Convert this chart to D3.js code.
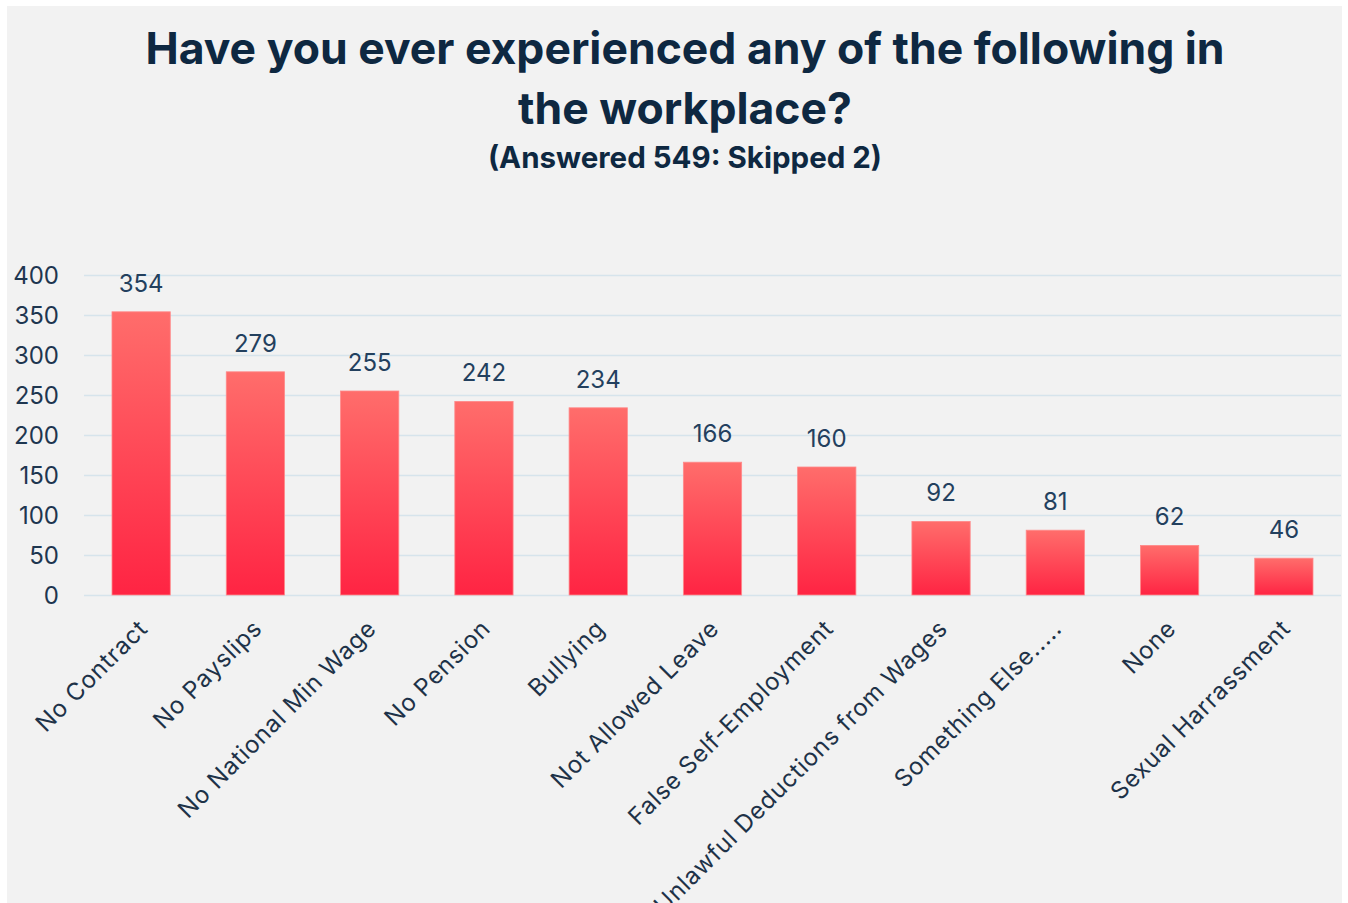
<!DOCTYPE html>
<html>
<head>
<meta charset="utf-8">
<script src="https://cdn.jsdelivr.net/npm/d3@7"></script>
<style>
  html, body { margin: 0; padding: 0; background: #ffffff; }
  svg { display: block; }
  text { font-family: Inter, "Open Sans", "DejaVu Sans", sans-serif; }
</style>
</head>
<body>
<svg id="chart" width="1348" height="903"></svg>
<script>
// Survey responses: workplace issues experienced
const categories = [
  "No Contract", "No Payslips", "No National Min Wage", "No Pension", "Bullying",
  "Not Allowed Leave", "False Self-Employment", "Unlawful Deductions from Wages",
  "Something Else.....", "None", "Sexual Harrassment"
];
const counts = [354, 279, 255, 242, 234, 166, 160, 92, 81, 62, 46];
const yTicks = [0, 50, 100, 150, 200, 250, 300, 350, 400];
const titleLines = ["Have you ever experienced any of the following in", "the workplace?"];
const subtitle = "(Answered 549: Skipped 2)";

const svg = d3.select("#chart");

// panel background
svg.append("rect")
  .attr("x", 7).attr("y", 6)
  .attr("width", 1335).attr("height", 897)
  .attr("fill", "#f2f2f2");

// bar gradient
const defs = svg.append("defs");
const grad = defs.append("linearGradient")
  .attr("id", "barGrad")
  .attr("x1", 0).attr("y1", 0).attr("x2", 0).attr("y2", 1);
grad.append("stop").attr("offset", "0%").attr("stop-color", "#ff6d6b");
grad.append("stop").attr("offset", "100%").attr("stop-color", "#ff2443");

const x = d3.scaleBand()
  .domain(categories)
  .range([84, 1341])
  .paddingInner(0.49)
  .paddingOuter(0.245);

const y = d3.scaleLinear()
  .domain([0, 400])
  .range([595, 275]);

// gridlines
const grid = svg.append("g")
  .attr("transform", "translate(84,0)")
  .call(d3.axisLeft(y).tickValues(yTicks).tickSize(-1257).tickFormat(""));
grid.select(".domain").remove();
grid.selectAll(".tick line").attr("stroke", "#d6e4ec").attr("stroke-width", 1.6);

// y-axis labels
const yAxis = svg.append("g")
  .attr("transform", "translate(59,0)")
  .call(d3.axisLeft(y).tickValues(yTicks).tickSize(0).tickPadding(0));
yAxis.select(".domain").remove();
yAxis.selectAll(".tick text")
  .attr("fill", "#1e3650")
  .attr("font-size", 24)
  .attr("dy", "0.36em");

// bars
svg.append("g").selectAll("rect")
  .data(categories)
  .join("rect")
  .attr("x", d => x(d))
  .attr("width", x.bandwidth())
  .attr("y", (d, i) => y(counts[i]))
  .attr("height", (d, i) => y(0) - y(counts[i]))
  .attr("fill", "url(#barGrad)")
  .attr("stroke", "#ff8a8a")
  .attr("stroke-width", 0.8);

// value labels
svg.append("g").selectAll("text")
  .data(categories)
  .join("text")
  .attr("x", d => x(d) + x.bandwidth() / 2)
  .attr("y", (d, i) => y(counts[i]) - 20)
  .attr("text-anchor", "middle")
  .attr("fill", "#23405e")
  .attr("font-size", 24)
  .text((d, i) => counts[i]);

// category axis, labels slanted at 45 degrees
const xAxis = svg.append("g")
  .attr("transform", "translate(0,595)")
  .call(d3.axisBottom(x).tickSize(0).tickPadding(0));
xAxis.select(".domain").remove();
xAxis.selectAll(".tick text")
  .attr("fill", "#1e3248")
  .attr("font-size", 24)
  .attr("letter-spacing", 0.8)
  .attr("text-anchor", "end")
  .attr("transform", "translate(8,35) rotate(-45)")
  .attr("dy", "0");

// title
svg.append("g").selectAll("text")
  .data(titleLines)
  .join("text")
  .attr("x", 685)
  .attr("y", (d, i) => 64 + i * 60)
  .attr("text-anchor", "middle")
  .attr("font-weight", 700)
  .attr("font-size", 44.5)
  .attr("fill", "#0e2841")
  .text(d => d);

svg.append("text")
  .attr("x", 685)
  .attr("y", 168)
  .attr("text-anchor", "middle")
  .attr("font-weight", 700)
  .attr("font-size", 29.5)
  .attr("fill", "#0e2841")
  .text(subtitle);
</script>
</body>
</html>
